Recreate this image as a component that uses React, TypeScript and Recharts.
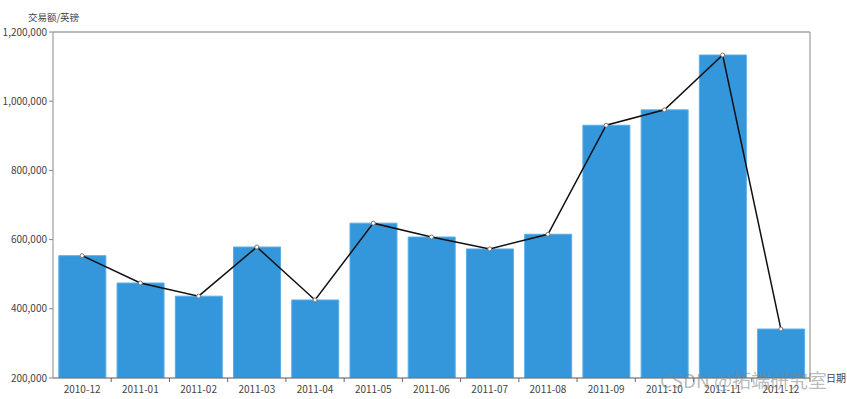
import { ComposedChart, Bar, Line, XAxis, YAxis, CartesianGrid, ReferenceLine } from "recharts";

const months = [
  "2010-12", "2011-01", "2011-02", "2011-03", "2011-04", "2011-05", "2011-06",
  "2011-07", "2011-08", "2011-09", "2011-10", "2011-11", "2011-12",
];
const revenue = [
  553500, 474500, 436500, 578500, 425500, 647500, 607500,
  573000, 615500, 930500, 975000, 1133500, 341500,
];
const yTicks = [200000, 400000, 600000, 800000, 1000000, 1200000];

const data = months.map((m, i) => ({ month: m, value: revenue[i] }));

const FONT = "'Noto Sans CJK SC', 'Noto Sans', sans-serif";
const BAND = 757 / months.length;

function XTick(props: any) {
  const { x, y, payload } = props;
  return (
    <g>
      <line x1={x + BAND / 2} x2={x + BAND / 2} y1={y - 8} y2={y - 4} stroke="#666" />
      <text x={x} y={y + 7} textAnchor="middle" fill="#444" fontSize={10} fontFamily={FONT}>
        {payload.value}
      </text>
    </g>
  );
}

export default function App() {
  return (
    <div style={{ position: "absolute", left: 0, top: 0, width: 847, height: 399, background: "#fff" }}>
      <ComposedChart width={847} height={399} data={data}
        margin={{ top: 32, right: 36, left: 0, bottom: 1 }} barCategoryGap="10%">
        <CartesianGrid vertical={false} stroke="#dddddd" />
        <XAxis dataKey="month" height={20} tickLine={false} stroke="#666"
          tick={<XTick />} interval={0}
          label={{ value: "日期", position: "right", offset: 16, dy: -10, fill: "#444", fontSize: 10, fontFamily: FONT }} />
        <YAxis yAxisId="l" width={53} domain={[200000, 1200000]} ticks={yTicks}
          stroke="#888" tickSize={4} allowDataOverflow
          tick={{ fill: "#444", fontSize: 10, fontFamily: FONT }}
          tickFormatter={(v: number) => v.toLocaleString("en-US")}
          label={{ value: "交易额/英镑", position: "top", offset: 11, dx: 27, fill: "#444", fontSize: 9.5, fontFamily: FONT }} />
        <YAxis yAxisId="r" orientation="right" width={1} domain={[200000, 1200000]}
          tick={false} tickLine={false} stroke="#888" />
        <ReferenceLine yAxisId="l" y={1200000} stroke="#888" />
        <Bar yAxisId="l" dataKey="value" fill="#3496db" stroke="#5aaee6" strokeWidth={1} isAnimationActive={false} />
        <Line yAxisId="l" dataKey="value" type="linear" stroke="#111" strokeWidth={1.5}
          dot={{ r: 2, fill: "#fff", stroke: "#777", strokeWidth: 1 }} activeDot={false} isAnimationActive={false} />
      </ComposedChart>
      <div style={{ position: "absolute", left: 660, top: 366, fontSize: 19, fontFamily: FONT, color: "rgba(130,130,130,0.55)", whiteSpace: "nowrap" }}>
        CSDN @拓端研究室
      </div>
    </div>
  );
}
